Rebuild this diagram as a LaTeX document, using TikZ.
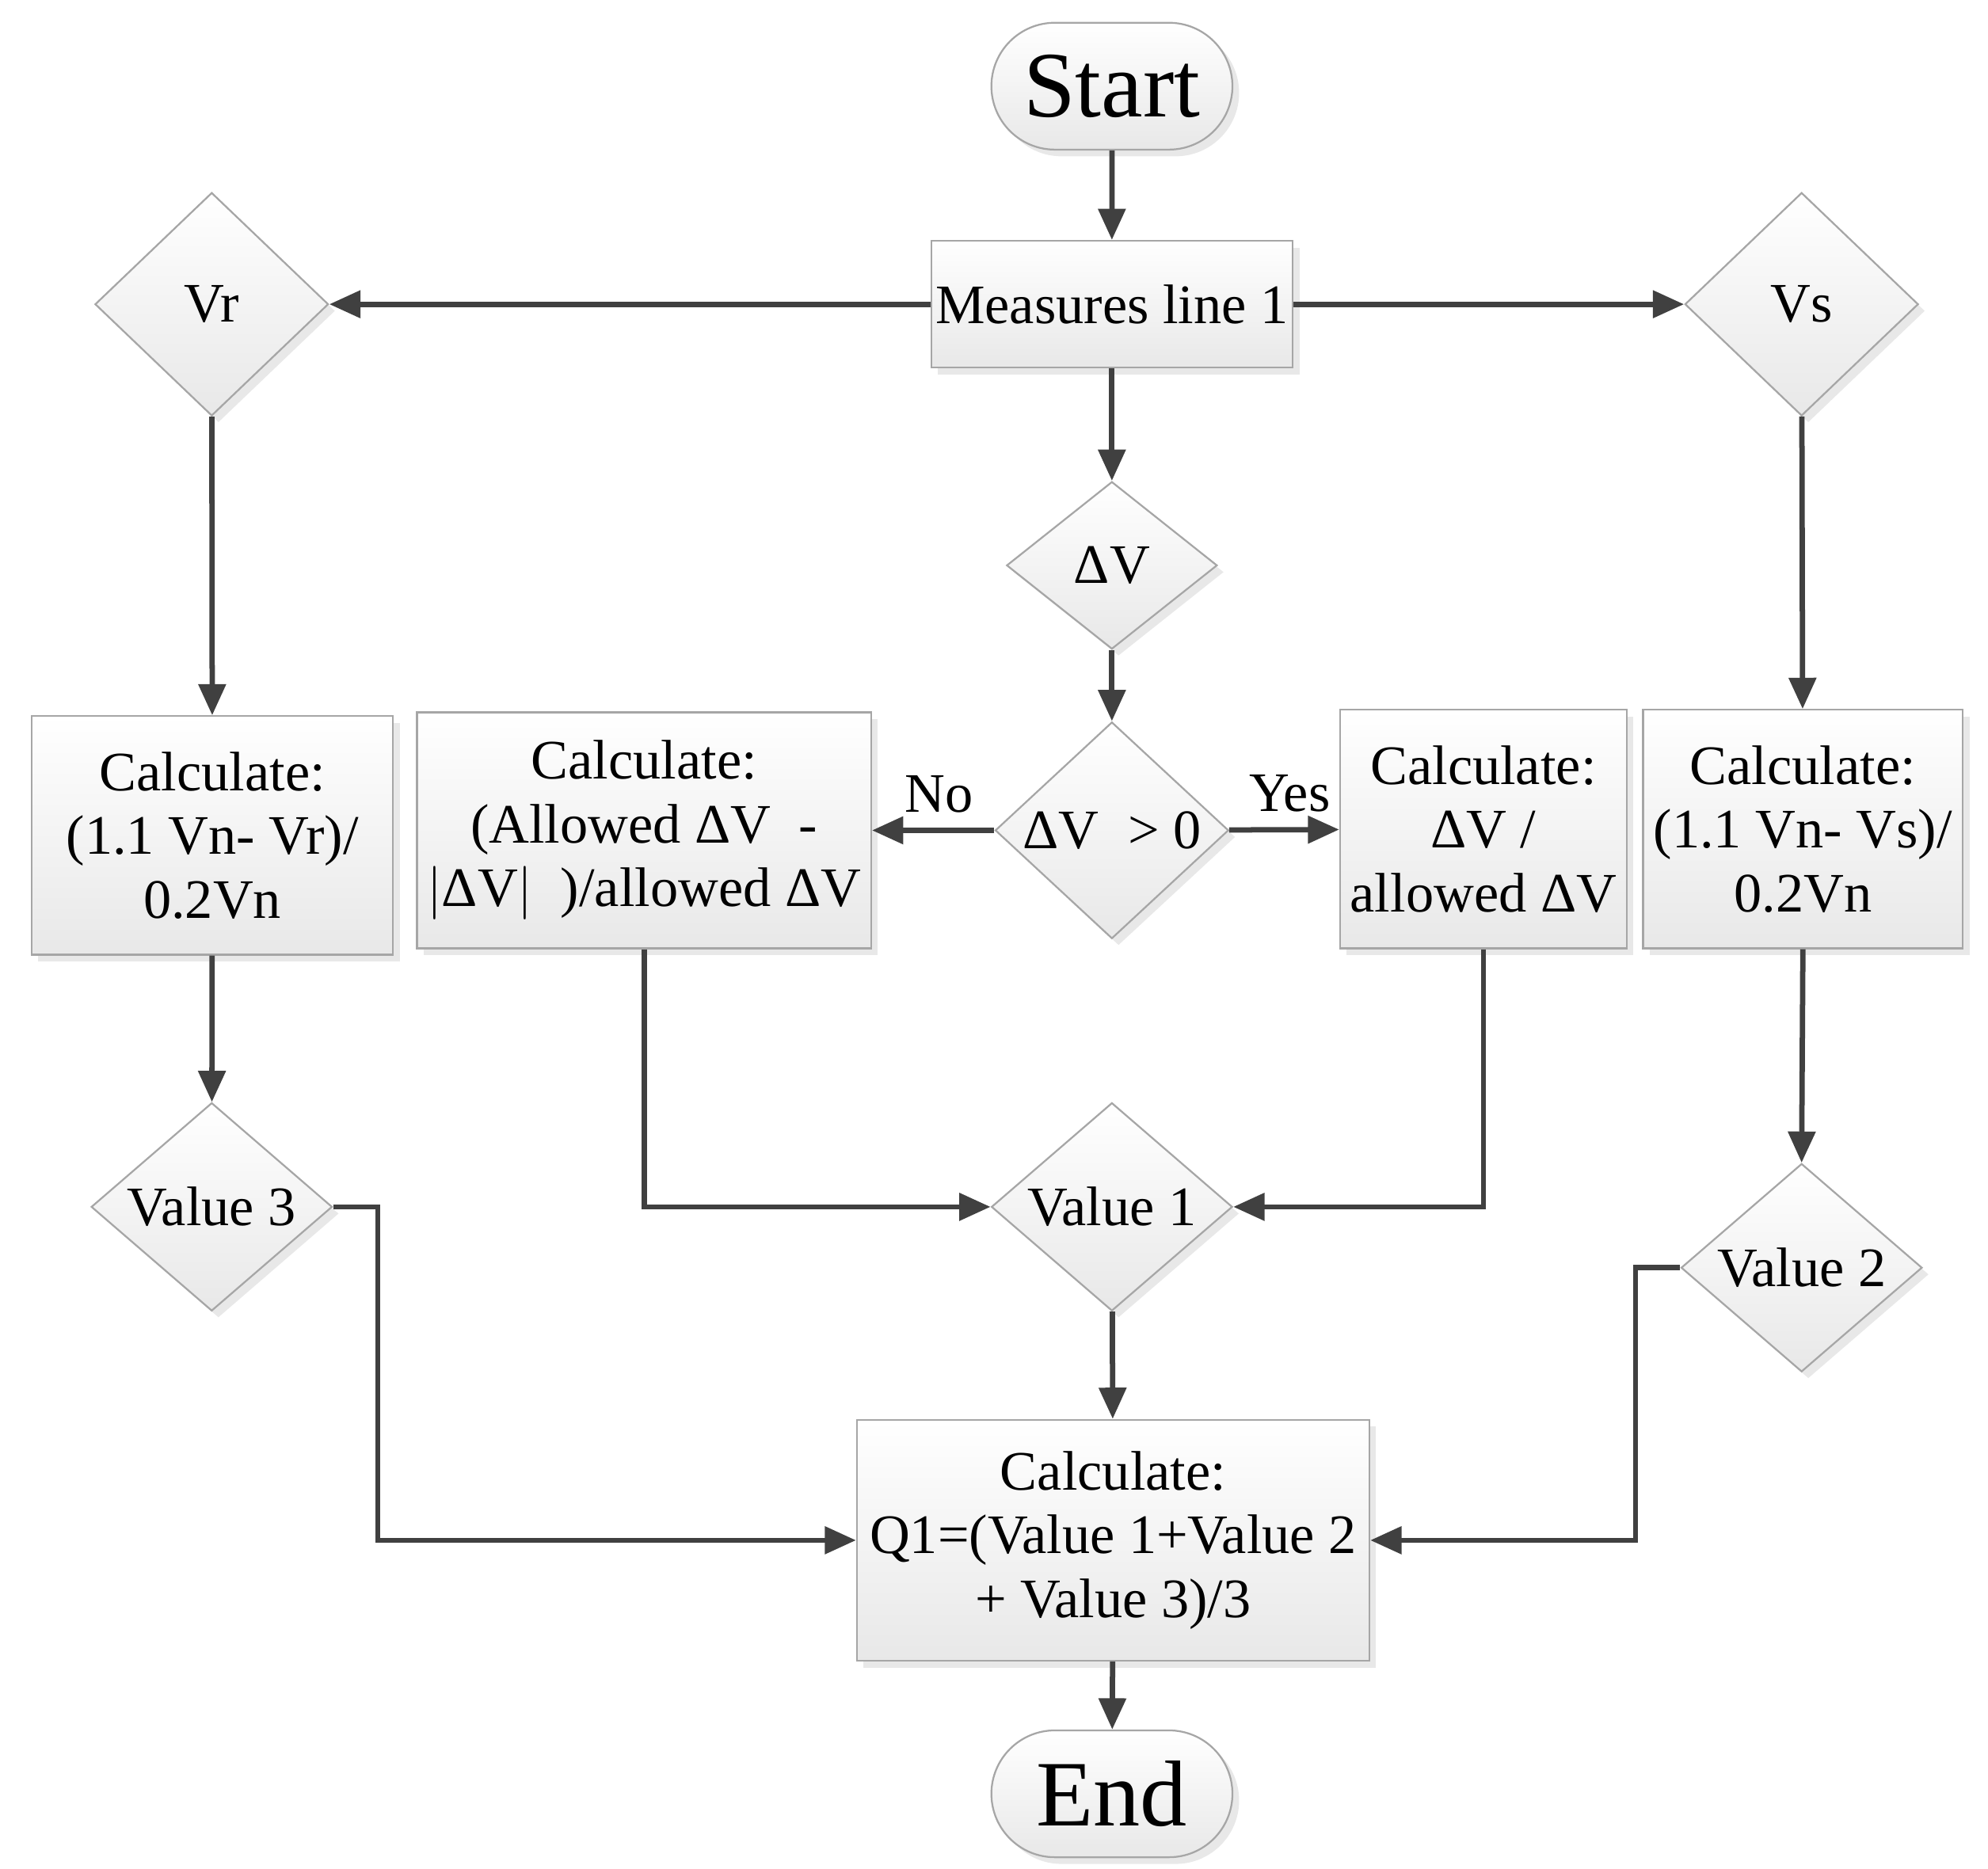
\documentclass[tikz,border=0pt]{standalone}
\usepackage{fontspec}
\setmainfont{Liberation Serif}
\usetikzlibrary{shapes.geometric,shadows,arrows.meta}
\begin{document}
\begin{tikzpicture}[x=0.01cm,y=-0.01cm,
  base/.style={draw=gray!70, top color=white, bottom color=gray!18, drop shadow={shadow xshift=1.5pt,shadow yshift=-1.5pt,fill=gray!35}, font=\fontsize{12.5}{14.3}\selectfont, align=center, inner sep=0pt},
  box/.style={base, rectangle},
  dia/.style={base, diamond},
  term/.style={base, rounded rectangle, minimum width=1.9cm, minimum height=1cm, font=\fontsize{21}{24}\selectfont},
  arr/.style={draw=black!75, line width=1.2pt, -{Triangle[length=7pt,width=6pt]}},
  lbl/.style={font=\fontsize{12.5}{14}\selectfont}]
\useasboundingbox (0,0) rectangle (1568,1474);
\usetikzlibrary{shapes.misc}
\node[term] (start) at (877,68) {Start};
\node[box, minimum width=2.85cm, minimum height=1cm] (meas) at (877,240) {Measures line 1};
\node[dia, minimum width=1.84cm, minimum height=1.76cm] (vr) at (167,240) {Vr};
\node[dia, minimum width=1.84cm, minimum height=1.76cm] (vs) at (1421,240) {Vs};
\node[dia, minimum width=1.66cm, minimum height=1.32cm] (dv) at (877,446) {ΔV};
\node[dia, minimum width=1.84cm, minimum height=1.64cm] (dvp) at (877,655) {ΔV \;> 0};
\node[box, minimum width=2.85cm, minimum height=1.88cm] (cvr) at (167.5,659) {Calculate:\\(1.1 Vn- Vr)/\\0.2Vn};
\node[box, minimum width=3.58cm, minimum height=1.86cm] (cno) at (508,655) {Calculate:\\(Allowed ΔV \ -\\$\big|$ΔV$\big|$ \ )/allowed ΔV};
\node[box, minimum width=2.26cm, minimum height=1.88cm] (cyes) at (1170,654) {Calculate:\\ΔV /\\allowed ΔV};
\node[box, minimum width=2.52cm, minimum height=1.88cm] (cvs) at (1422,654) {Calculate:\\(1.1 Vn- Vs)/\\0.2Vn};
\node[dia, minimum width=1.9cm, minimum height=1.44cm] (v3) at (167,952) {Value 3};
\node[dia, minimum width=1.9cm, minimum height=1.44cm] (v1) at (877,952) {Value 1};
\node[dia, minimum width=1.9cm, minimum height=1.44cm] (v2) at (1421,1000) {Value 2};
\node[box, minimum width=4.04cm, minimum height=1.9cm] (q1) at (878,1215) {Calculate:\\Q1=(Value 1+Value 2\\+ Value 3)/3};
\node[term] (end) at (877,1415) {End};
\draw[arr] (start) -- (meas);
\draw[arr] (meas) -- (vr);
\draw[arr] (meas) -- (vs);
\draw[arr] (meas) -- (dv);
\draw[arr] (dv) -- (dvp);
\draw[arr] (dvp) -- node[lbl,above,pos=0.45]{No} (cno);
\draw[arr] (dvp) -- node[lbl,above,pos=0.55]{Yes} (cyes);
\draw[arr] (vr) -- (cvr);
\draw[arr] (vs) -- (cvs);
\draw[arr] (cvr) -- (v3);
\draw[arr] (cvs.south) -- (v2.north);
\draw[arr] (cno.south) |- (v1.west);
\draw[arr] (cyes.south) |- (v1.east);
\draw[arr] (v3.east) -- (298,952) |- (q1.west);
\draw[arr] (v2.west) -- (1290,1000) |- (q1.east);
\draw[arr] (v1) -- (q1);
\draw[arr] (q1) -- (end);
\end{tikzpicture}
\end{document}
